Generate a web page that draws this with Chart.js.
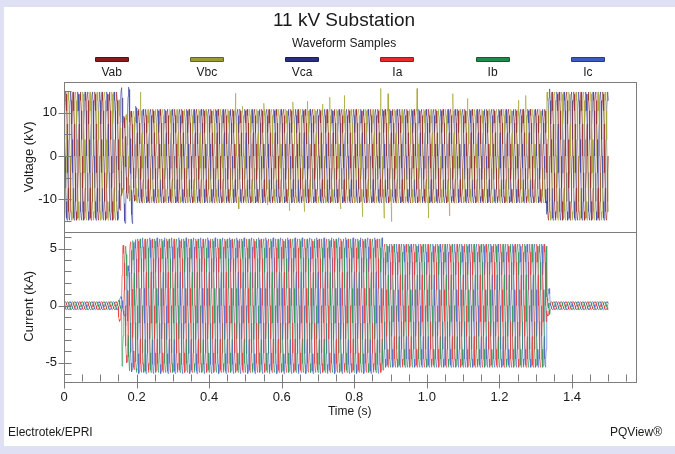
<!DOCTYPE html>
<html>
<head>
<meta charset="utf-8">
<script src="https://cdn.jsdelivr.net/npm/chart.js@4.4.1/dist/chart.umd.min.js"></script>
<style>
  body { margin: 0; width: 675px; height: 454px; overflow: hidden; background: #dfe0f3;
         font-family: "Liberation Sans", Arial, sans-serif; color: #1a1a1a; }
  #sheet { position: absolute; left: 4px; top: 7px; width: 671px; height: 439px; background: #fff; }
  #chart { position: absolute; left: 0; top: 0; }
  .txt { position: absolute; white-space: nowrap; line-height: 1; }
  #title { left: 0; width: 688px; top: 10px; text-align: center; font-size: 19px; }
  #subtitle { left: 0; width: 688px; top: 37px; text-align: center; font-size: 12px; }
  #footL { left: 8px; top: 426px; font-size: 12px; }
  #footR { right: 13px; top: 426px; font-size: 12px; }
  .legLine { position: absolute; width: 32px; height: 3px; top: 57px; border: 1px solid rgba(0,0,0,0.35); border-radius: 1px; }
  .legText { position: absolute; top: 66px; width: 60px; text-align: center; font-size: 12px; line-height: 1; }
</style>
</head>
<body>
<div id="sheet"></div>
<canvas id="chart" width="675" height="454"></canvas>
<div class="txt" id="title">11 kV Substation</div>
<div class="txt" id="subtitle">Waveform Samples</div>
<div class="txt" id="footL">Electrotek/EPRI</div>
<div class="txt" id="footR">PQView®</div>
<script>
// Series
const seriesNames = ['Vab', 'Vbc', 'Vca', 'Ia', 'Ib', 'Ic'];
const seriesColors = ['#8b1c1c', '#9b9b35', '#2b2f84', '#e32b2b', '#1f8a4a', '#3d5bc2'];
const traceColors = ['rgba(150,40,40,0.7)', 'rgba(165,165,50,0.7)', 'rgba(60,65,160,0.7)',
                     'rgba(232,55,55,0.7)', 'rgba(40,150,85,0.7)', 'rgba(75,100,205,0.7)'];

// Axis ticks
const timeTicks = [0, 0.2, 0.4, 0.6, 0.8, 1.0, 1.2, 1.4];
const voltTicks = [-10, 0, 10];
const currTicks = [-5, 0, 5];

// one 50 Hz cycle, 24 samples, normalised
const cycleShape = [0, 0.259, 0.5, 0.707, 0.866, 0.966, 1, 0.966, 0.866, 0.707, 0.5, 0.259,
                    0, -0.259, -0.5, -0.707, -0.866, -0.966, -1, -0.966, -0.866, -0.707, -0.5, -0.259];
// phase position of each series, in samples (8 samples = 120 deg)
const phaseOffset = [0, 16, 8, 2, 18, 10];

// peak per half cycle (10 ms), as runs of [half cycles, peak]
const vabPeaks = [[15, 14.8], [1, 12.5], [1, 9.2], [1, 9.8], [2, 10.4], [113, 10.8], [17, 14.8]];
const vbcPeaks = [[15, 14.8], [1, 13.0], [1, 8.6], [1, 9.6], [2, 10.4], [113, 10.8], [17, 14.8]];
const vcaPeaks = [[15, 14.8], [1, 15.8], [1, 15.5], [1, 15.9], [1, 15.6], [1, 11.5], [113, 10.8], [1, 15.5], [16, 14.8]];
const iaPeaks = [[15, 0.35], [1, 1.4], [1, 5.3], [1, 5.0], [2, 5.6], [68, 5.85], [45, 5.4], [1, 0.9], [16, 0.35]];
const ibPeaks = [[15, 0.35], [1, 0.5], [1, 5.3], [1, 5.2], [2, 5.7], [68, 5.85], [45, 5.4], [1, 0.8], [16, 0.35]];
const icPeaks = [[15, 0.35], [1, 0.8], [1, 0.9], [1, 3.5], [2, 5.8], [68, 5.95], [45, 5.4], [1, 1.5], [16, 0.35]];

// Vbc transients (s, kV)
const vbcSpikeTimes = [0.211, 0.473, 0.482, 0.492, 0.551, 0.561, 0.621, 0.631, 0.662, 0.671, 0.713, 0.733,
  0.763, 0.772, 0.823, 0.873, 0.882, 0.893, 0.903, 0.973, 1.004, 1.063, 1.072, 1.112, 1.253, 1.273];
const vbcSpikeValues = [14.8, 14.5, -12.2, 11.5, 12.2, -11.3, -12.6, 12.5, -12.8, 12.7, 12.0, 13.6,
  -12.2, 14.0, -14.0, 15.6, -14.3, 14.4, -15.1, 15.6, -14.3, -13.8, 14.4, 13.3, 12.9, 14.0];

const STEP = 0.02 / cycleShape.length;

function expand(runs) {
    const out = [];
    runs.forEach(([n, v]) => { for (let i = 0; i < n; i++) out.push(v); });
    return out;
}

function wave(runs, offset) {
    const peaks = expand(runs);
    const half = cycleShape.length / 2;
    const pts = [];
    for (let k = 0; k <= peaks.length * half; k++) {
        const h = Math.min(Math.floor(k / half), peaks.length - 1);
        pts.push({ x: k * STEP, y: cycleShape[(k + offset) % cycleShape.length] * peaks[h] });
    }
    return pts;
}

const vbc = wave(vbcPeaks, phaseOffset[1]);
vbcSpikeTimes.forEach((t, i) => vbc.push({ x: t, y: vbcSpikeValues[i] }));
vbc.sort((a, b) => a.x - b.x);

const seriesData = [
    wave(vabPeaks, phaseOffset[0]), vbc, wave(vcaPeaks, phaseOffset[2]),
    wave(iaPeaks, phaseOffset[3]), wave(ibPeaks, phaseOffset[4]), wave(icPeaks, phaseOffset[5])
];

const datasets = seriesNames.map((name, i) => ({
    label: name,
    data: seriesData[i],
    yAxisID: i < 3 ? 'yV' : 'yI',
    borderColor: traceColors[i],
    borderWidth: 0.9,
    pointRadius: 0,
    tension: 0
}));

const axisFont = { family: '"Liberation Sans", Arial, sans-serif', size: 13 };

// frame round each panel, ticks drawn by hand (major + minor)
const framePlugin = {
    id: 'frame',
    afterDatasetsDraw(chart) {
        const { ctx, chartArea: a, scales } = chart;
        const line = (x1, y1, x2, y2) => { ctx.beginPath(); ctx.moveTo(x1, y1); ctx.lineTo(x2, y2); ctx.stroke(); };
        ctx.save();
        ctx.strokeStyle = '#7c7c7c';
        ctx.lineWidth = 1;
        [scales.yV, scales.yI].forEach(s => {
            ctx.strokeRect(Math.round(a.left) + 0.5, Math.round(s.top) + 0.5,
                Math.round(a.right - a.left), Math.round(s.bottom - s.top));
        });
        const bottom = Math.round(a.bottom) + 0.5;
        for (let i = 0; i * 0.05 <= scales.x.max + 1e-9; i++) {
            const v = i * 0.05;
            const x = Math.round(scales.x.getPixelForValue(v)) + 0.5;
            const major = timeTicks.some(t => Math.abs(t - v) < 1e-6);
            line(x, bottom - 7, x, bottom + (major ? 7 : 0));
        }
        [[scales.yV, 5, voltTicks], [scales.yI, 1, currTicks]].forEach(([s, step, majors]) => {
            const left = Math.round(a.left) + 0.5;
            for (let v = Math.ceil(s.min / step) * step; v <= s.max; v += step) {
                const y = Math.round(s.getPixelForValue(v)) + 0.5;
                const major = majors.includes(v);
                line(left - (major ? 6 : 0), y, left + 7, y);
            }
        });
        ctx.restore();
    }
};

const yCommon = {
    type: 'linear',
    position: 'left',
    stack: 'panels',
    stackWeight: 1,
    afterFit: s => { s.width = 56; },
    grid: { display: false, drawTicks: false, tickLength: 0 },
    border: { display: false },
    ticks: { padding: 7, color: '#1a1a1a', font: axisFont }
};

const chart = new Chart(document.getElementById('chart'), {
    type: 'line',
    data: { datasets },
    options: {
        responsive: false,
        animation: false,
        events: [],
        parsing: false,
        layout: { padding: { left: 8, top: 82, right: 39.5, bottom: 33 } },
        plugins: { legend: { display: false }, tooltip: { enabled: false } },
        scales: {
            x: {
                type: 'linear', min: 0, max: 1.575,
                afterBuildTicks: s => { s.ticks = timeTicks.map(v => ({ value: v })); },
                afterFit: s => { s.height = 40; },
                grid: { display: false, drawTicks: false, tickLength: 0 },
                border: { display: false },
                ticks: { padding: 9, maxRotation: 0, color: '#1a1a1a', font: axisFont,
                         callback: v => v === 0 ? '0' : v.toFixed(1) },
                title: { display: true, text: 'Time (s)', color: '#1a1a1a',
                         font: { family: axisFont.family, size: 12 }, padding: { top: 0, bottom: 2 } }
            },
            yI: Object.assign({}, yCommon, {
                min: -6.6, max: 6.5,
                afterBuildTicks: s => { s.ticks = currTicks.map(v => ({ value: v })); },
                title: { display: true, text: 'Current (kA)', color: '#1a1a1a', font: axisFont, padding: { top: 14, bottom: 0 } }
            }),
            yV: Object.assign({}, yCommon, {
                min: -17.4, max: 17.1,
                afterBuildTicks: s => { s.ticks = voltTicks.map(v => ({ value: v })); },
                title: { display: true, text: 'Voltage (kV)', color: '#1a1a1a', font: axisFont, padding: { top: 14, bottom: 0 } }
            })
        }
    },
    plugins: [framePlugin]
});

// legend: line sample above each name, spread evenly over the plot width
const area = chart.chartArea;
const slot = (area.right - area.left) / seriesNames.length;
seriesNames.forEach((name, i) => {
    const cx = area.left + (i + 0.5) * slot;
    const bar = document.createElement('div');
    bar.className = 'legLine';
    bar.style.left = (cx - 17) + 'px';
    bar.style.background = seriesColors[i];
    document.body.appendChild(bar);
    const label = document.createElement('div');
    label.className = 'legText';
    label.style.left = (cx - 30) + 'px';
    label.textContent = name;
    document.body.appendChild(label);
});
</script>
</body>
</html>
